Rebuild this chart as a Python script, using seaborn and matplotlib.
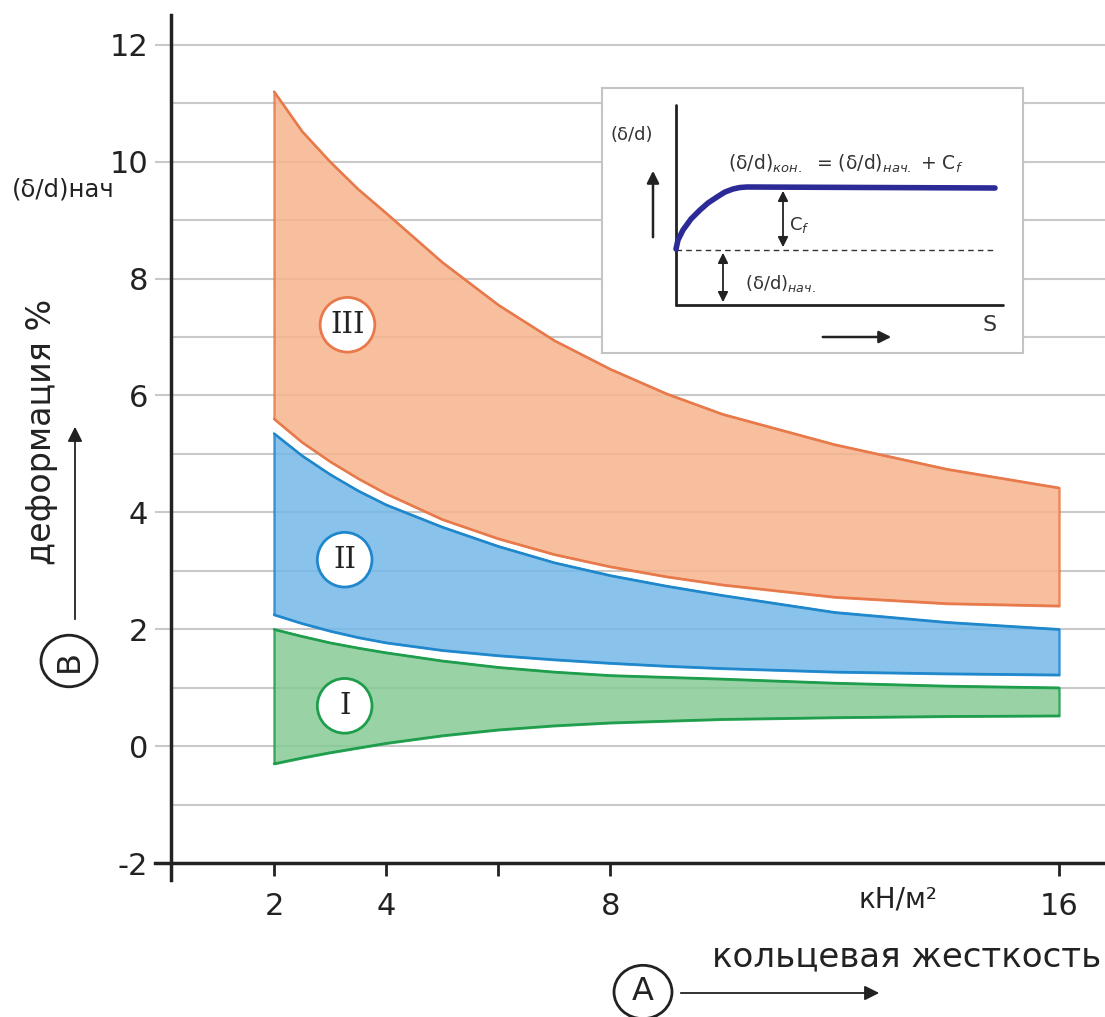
import numpy as np
import matplotlib
matplotlib.use("Agg")
import matplotlib.pyplot as plt
import seaborn as sns
from matplotlib.patches import Circle

sns.set_theme(style="white")
plt.rcParams['font.family'] = ['DejaVu Sans']

# ring stiffness, kN/m2
stiffness = [2, 2.5, 3, 3.5, 4, 5, 6, 7, 8, 9, 10, 12, 14, 16]

# zone III (orange)
zone3_top = [11.2, 10.52, 10.0, 9.53, 9.12, 8.28, 7.55, 6.94, 6.45, 6.03, 5.68, 5.16, 4.74, 4.42]
zone3_bot = [5.6, 5.2, 4.87, 4.58, 4.32, 3.88, 3.55, 3.28, 3.07, 2.9, 2.76, 2.55, 2.44, 2.4]
# zone II (blue)
zone2_top = [5.35, 4.97, 4.65, 4.37, 4.13, 3.75, 3.42, 3.14, 2.92, 2.74, 2.58, 2.29, 2.12, 2.0]
zone2_bot = [2.25, 2.1, 1.97, 1.86, 1.77, 1.64, 1.55, 1.48, 1.42, 1.37, 1.33, 1.27, 1.24, 1.22]
# zone I (green)
zone1_top = [2.0, 1.88, 1.77, 1.68, 1.6, 1.46, 1.35, 1.27, 1.21, 1.18, 1.15, 1.08, 1.03, 1.0]
zone1_bot = [-0.3, -0.2, -0.11, -0.03, 0.05, 0.18, 0.28, 0.35, 0.4, 0.43, 0.46, 0.49, 0.51, 0.52]

zone_names = ['III', 'II', 'I']
label_x = [3.31, 3.26, 3.26]
label_y = [7.21, 3.19, 0.69]

x_ticks = [2, 4, 6, 8, 16]
x_ticklabels = ['2', '4', '', '8', '16']
y_ticks = [-2, 0, 2, 4, 6, 8, 10, 12]

# inset sketch: deformation vs time
inset_s = [74, 76, 81, 89, 98, 106, 115, 123, 131, 138, 145, 393]
inset_d = [104, 113, 123, 134, 143, 150, 156, 161, 164, 165.5, 166, 165]

fill_cols = ['#f6b48c', '#74b8e8', '#86cb95']
edge_cols = ['#e8794a', '#1f87cc', '#1e9e4c']

fig = plt.figure(figsize=(11.05, 10.17), dpi=100)
W, H = 1105, 1017
ax = fig.add_axes([171 / W, 1 - 880 / H, (W - 171) / W, (880 - 15) / H])
ax.set_xlim(0.163, 16.82)
ax.set_ylim(-2.29, 12.51)

# grid
ax.set_yticks(y_ticks)
ax.set_yticks(range(-1, 13, 2), minor=True)
ax.yaxis.grid(True, which='both', color='#c9c9c9', lw=1.5, zorder=0)
ax.xaxis.grid(False)
ax.set_axisbelow(True)

zones = [(zone3_bot, zone3_top), (zone2_bot, zone2_top), (zone1_bot, zone1_top)]
for (lo, hi), fc, ec in zip(zones, fill_cols, edge_cols):
    ax.fill_between(stiffness, lo, hi, facecolor=fc, edgecolor=ec, lw=1.7,
                    alpha=0.85, zorder=2)
    sns.lineplot(x=stiffness, y=hi, color=ec, lw=1.7, ax=ax, zorder=3)
    sns.lineplot(x=stiffness, y=lo, color=ec, lw=1.7, ax=ax, zorder=3)

ax.scatter(label_x, label_y, s=1550, facecolor='white', edgecolor=edge_cols,
           lw=2.0, zorder=5)
for name, lx, ly in zip(zone_names, label_x, label_y):
    ax.text(lx, ly, name, ha='center', va='center', fontsize=21,
            family='DejaVu Serif', color='#222222', zorder=6)

# spines and ticks
for s in ['top', 'right']:
    ax.spines[s].set_visible(False)
ax.spines['left'].set_color('#222222')
ax.spines['left'].set_linewidth(2.5)
ax.spines['bottom'].set_position(('data', -2))
ax.spines['bottom'].set_color('#222222')
ax.spines['bottom'].set_linewidth(2.5)
ax.spines['bottom'].set_bounds(-0.12, 16.82)

ax.set_xticks(x_ticks)
ax.set_xticklabels(x_ticklabels)
ax.tick_params(bottom=True, left=True)
ax.tick_params(axis='x', which='major', direction='out', length=9, width=2,
               color='#222222', pad=12, labelsize=22, labelcolor='#222222')
ax.tick_params(axis='y', which='major', direction='out', length=11.5, width=1.5,
               color='#c9c9c9', pad=5, labelsize=22, labelcolor='#222222')
ax.tick_params(axis='y', which='minor', length=0)
ax.set_yticklabels(['-2', '0', '2', '4', '6', '8', '10', '12'])

# left side annotations
fig.text(12 / W, 1 - 190 / H, '(δ/d)нач', fontsize=17.5, va='center', ha='left',
         color='#222222')
fig.text(42 / W, 1 - 432 / H, 'деформация %', fontsize=24, rotation=90,
         va='center', ha='center', color='#222222')
fig.patches.append(Circle((69 / W, 1 - 661 / H), 28 / W, transform=fig.transFigure,
                          facecolor='white', edgecolor='#222222', lw=2))
fig.text(69 / W, 1 - 661 / H, 'B', fontsize=23, rotation=90, va='center',
         ha='center', color='#222222')
ax.annotate('', xy=(75 / W, 1 - 424 / H), xytext=(75 / W, 1 - 622 / H),
            xycoords='figure fraction', textcoords='figure fraction',
            arrowprops=dict(arrowstyle='-|>', color='#222222', lw=1.3,
                            mutation_scale=22))

# bottom annotations
fig.text(898 / W, 1 - 900 / H, 'кН/м²', fontsize=20, va='center', ha='center',
         color='#222222')
fig.text(1101 / W, 1 - 957 / H, 'кольцевая жесткость', fontsize=24.5,
         va='center', ha='right', color='#222222')
fig.patches.append(Circle((643 / W, 1 - 992 / H), 29 / W, transform=fig.transFigure,
                          facecolor='white', edgecolor='#222222', lw=2))
fig.text(643 / W, 1 - 992 / H, 'A', fontsize=23, va='center', ha='center',
         color='#222222')
ax.annotate('', xy=(882 / W, 1 - 993 / H), xytext=(678 / W, 1 - 993 / H),
            xycoords='figure fraction', textcoords='figure fraction',
            arrowprops=dict(arrowstyle='-|>', color='#222222', lw=1.3,
                            mutation_scale=22))

# inset
iax = fig.add_axes([602 / W, 1 - 353 / H, 421 / W, 265 / H])
iax.set_xlim(0, 421)
iax.set_ylim(0, 265)
iax.set_xticks([])
iax.set_yticks([])
iax.set_facecolor('white')
for s in iax.spines.values():
    s.set_color('#c4c4c4')
    s.set_linewidth(1.5)
iax.plot([74, 74], [48, 248], color='#222222', lw=2)
iax.plot([74, 401], [48, 48], color='#222222', lw=2)
iax.plot([74, 393], [103, 103], color='#333333', lw=1, ls=(0, (4, 3)))
sns.lineplot(x=inset_s, y=inset_d, color='#2b2a96', lw=4, ax=iax, sort=False)
arrow_kw = dict(arrowstyle='<|-|>', color='#222222', lw=1.3, mutation_scale=15)
iax.annotate('', xy=(181, 165), xytext=(181, 103), arrowprops=arrow_kw)
iax.annotate('', xy=(121, 103), xytext=(121, 48), arrowprops=arrow_kw)
iax.annotate('', xy=(51, 185), xytext=(51, 113),
             arrowprops=dict(arrowstyle='-|>', color='#222222', lw=1.8,
                             mutation_scale=18))
iax.annotate('', xy=(292, 16), xytext=(218, 16),
             arrowprops=dict(arrowstyle='-|>', color='#222222', lw=1.8,
                             mutation_scale=18))
iax.text(8, 218, '(δ/d)', fontsize=13, va='center', ha='left', color='#333333')
iax.text(126, 189, '(δ/d)$_{\\mathit{кон.}}$  = (δ/d)$_{\\mathit{нач.}}$ + C$_f$',
         fontsize=13.5, va='center', ha='left', color='#333333')
iax.text(187, 128, 'C$_f$', fontsize=13, va='center', ha='left', color='#333333')
iax.text(143, 69, '(δ/d)$_{\\mathit{нач.}}$', fontsize=13, va='center',
         ha='left', color='#333333')
iax.text(388, 28, 'S', fontsize=16, va='center', ha='center', color='#333333')

fig.savefig('out.png', dpi=100)
